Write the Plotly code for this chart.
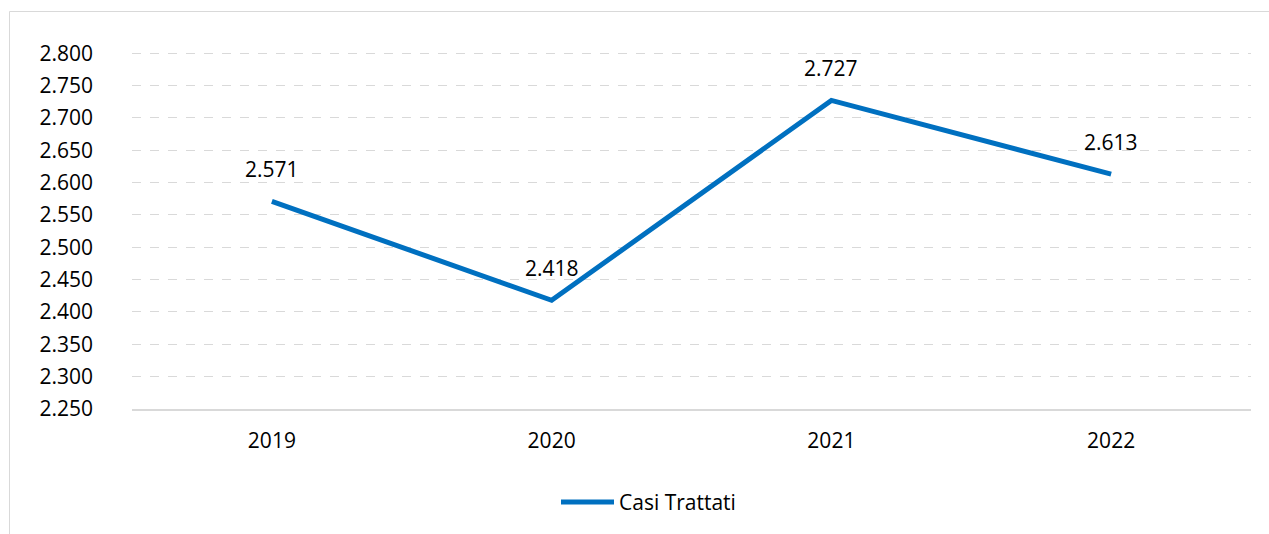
import plotly.graph_objects as go

years = ["2019", "2020", "2021", "2022"]
casi_trattati = [2571, 2418, 2727, 2613]
series_name = "Casi Trattati"
line_color = "#0070C0"

W, H = 1269, 534
ml, mr, mt, mb = 132, 18, 50, 125
pw, ph = W - ml - mr, H - mt - mb

def px_x(p):
    return (p - ml) / pw

def px_y(p):
    return (H - mb - p) / ph

fig = go.Figure()
fig.add_trace(go.Scatter(
    x=years, y=casi_trattati, mode="lines", name=series_name,
    line=dict(color=line_color, width=5),
    showlegend=False,
))

for i, y in enumerate(casi_trattati):
    fig.add_annotation(
        x=i, y=y, text=f"{y:,}".replace(",", "."), showarrow=False,
        yshift=32, font=dict(size=21, color="#000000"),
    )

# chart border
fig.add_shape(type="rect", xref="paper", yref="paper",
              x0=px_x(9.5), x1=px_x(1300), y0=px_y(600), y1=px_y(11.5),
              line=dict(color="#d9d9d9", width=1), fillcolor="rgba(0,0,0,0)", layer="below")

# legend (Excel-style long line sample)
fig.add_shape(type="line", xref="paper", yref="paper",
              x0=px_x(561), x1=px_x(614), y0=px_y(502), y1=px_y(502),
              line=dict(color=line_color, width=5))
fig.add_annotation(xref="paper", yref="paper", x=px_x(617), y=px_y(502),
                   xanchor="left", yanchor="middle", text=series_name, showarrow=False,
                   font=dict(size=21, color="#000000"))

fig.update_layout(
    width=W, height=H,
    margin=dict(l=ml, r=mr, t=mt, b=mb, pad=0),
    paper_bgcolor="white", plot_bgcolor="white",
    separators=",.",
    font=dict(family="Open Sans, Lato, sans-serif", size=21, color="#000000"),
    xaxis=dict(
        type="category", range=[-0.5, 3.5], showgrid=False,
        showline=True, linecolor="#d9d9d9", linewidth=2,
        ticks="", ticklabelstandoff=12, tickfont=dict(size=21),
        zeroline=False,
    ),
    yaxis=dict(
        range=[2250, 2805], dtick=50, tick0=2250, tickformat=",d",
        showgrid=True, gridcolor="#d9d9d9", griddash="dash", gridwidth=1,
        showline=False, zeroline=False, ticks="", ticklabelstandoff=38,
        tickfont=dict(size=21),
    ),
    showlegend=False,
)

fig.write_html("out.html", config={"displayModeBar": False},
               post_script="document.body.style.margin='0';document.body.style.overflow='hidden';")
